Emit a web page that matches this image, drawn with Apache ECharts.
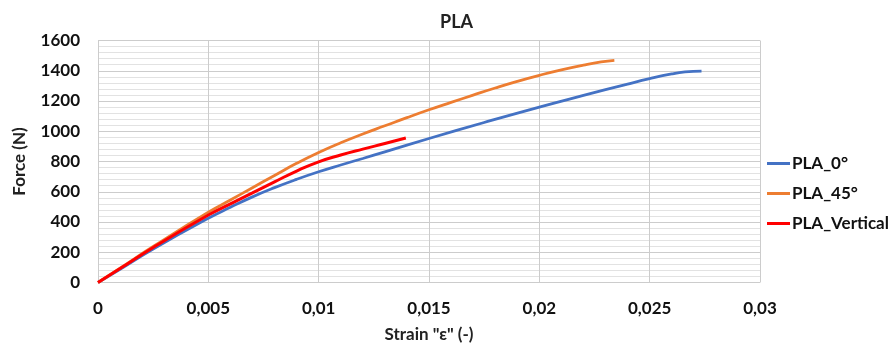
<!DOCTYPE html>
<html>
<head>
<meta charset="utf-8">
<script src="https://cdn.jsdelivr.net/npm/echarts@6/dist/echarts.min.js"></script>
<style>html,body{margin:0;padding:0;background:#fff}#c{width:894px;height:347px}</style>
</head>
<body>
<div id="c"></div>
<script>
const seriesNames = ['PLA_0°', 'PLA_45°', 'PLA_Vertical'];
const xTicks = [0, 0.005, 0.01, 0.015, 0.02, 0.025, 0.03];
const yTicks = [0, 200, 400, 600, 800, 1000, 1200, 1400, 1600];

const pla0 = [
  [0, 0], [0.001, 88], [0.0025, 222], [0.005, 425], [0.006, 497], [0.007, 566],
  [0.008, 627], [0.009, 682], [0.01, 732], [0.011, 777], [0.012, 820], [0.013, 864],
  [0.015, 952], [0.0175, 1058], [0.02, 1160], [0.022, 1237], [0.024, 1312],
  [0.025, 1348], [0.026, 1379], [0.0266, 1392], [0.02735, 1398]
];
const pla45 = [
  [0, 0], [0.001, 95], [0.0025, 238], [0.005, 465], [0.006, 545], [0.007, 627],
  [0.008, 708], [0.009, 788], [0.01, 860], [0.011, 924], [0.012, 982], [0.013, 1036],
  [0.014, 1090], [0.015, 1142], [0.016, 1191], [0.017, 1239], [0.018, 1286],
  [0.019, 1330], [0.02, 1370], [0.021, 1406], [0.022, 1437], [0.0228, 1458], [0.0234, 1468]
];
const plaVertical = [
  [0, 0], [0.001, 92], [0.0025, 232], [0.005, 446], [0.006, 520], [0.007, 592],
  [0.008, 665], [0.009, 737], [0.01, 798], [0.011, 843], [0.012, 882], [0.013, 919],
  [0.01395, 955]
];

const colors = ['#4472C4', '#ED7D31', '#FF0000'];
const font = 'Lato, "Open Sans", sans-serif';

const chart = echarts.init(document.getElementById('c'), null, {renderer: 'canvas'});
chart.setOption({
  animation: false,
  backgroundColor: '#fff',
  title: {
    text: 'PLA', left: 435, top: 8,
    textStyle: {fontFamily: font, fontWeight: 'bold', fontSize: 18, color: '#222'}
  },
  grid: {left: 98, right: 134, top: 40.5, bottom: 64.5, containLabel: false, outerBoundsMode: 'none'},
  legend: {
    orient: 'vertical', left: 762, top: 150, itemGap: 13,
    icon: 'rect', itemWidth: 23, itemHeight: 3,
    data: seriesNames,
    textStyle: {fontFamily: font, fontWeight: 'bold', fontSize: 17, color: '#111', padding: [0, 0, 0, -3]}
  },
  xAxis: {
    type: 'value', min: xTicks[0], max: xTicks[xTicks.length - 1], interval: 0.005,
    name: 'Strain "ε" (-)', nameLocation: 'middle', nameGap: 44,
    nameTextStyle: {fontFamily: font, fontWeight: 'bold', fontSize: 17, color: '#222'},
    axisLine: {show: false}, axisTick: {show: false},
    axisLabel: {
      margin: 18, fontFamily: font, fontWeight: 'bold', fontSize: 17, color: '#111',
      formatter: v => String(+v.toFixed(3)).replace('.', ',')
    },
    splitLine: {show: true, lineStyle: {color: '#cccccc', width: 1}}
  },
  yAxis: {
    type: 'value', min: yTicks[0], max: yTicks[yTicks.length - 1], interval: 200,
    name: 'Force (N)', nameLocation: 'middle', nameGap: 70, nameRotate: 90,
    nameTextStyle: {fontFamily: font, fontWeight: 'bold', fontSize: 17, color: '#222'},
    axisLine: {show: false}, axisTick: {show: false},
    axisLabel: {margin: 18, fontFamily: font, fontWeight: 'bold', fontSize: 17, color: '#111',
      formatter: v => String(v)},
    splitLine: {show: true, lineStyle: {color: '#cccccc', width: 1}},
    minorTick: {show: true, splitNumber: 5, length: 0, lineStyle: {color: 'rgba(0,0,0,0)'}},
    minorSplitLine: {show: true, lineStyle: {color: '#e2e2e2', width: 1}}
  },
  series: [
    {name: seriesNames[0], type: 'line', data: pla0, smooth: true, showSymbol: false,
     lineStyle: {width: 2.8, color: colors[0]}, itemStyle: {color: colors[0]}},
    {name: seriesNames[1], type: 'line', data: pla45, smooth: true, showSymbol: false,
     lineStyle: {width: 2.8, color: colors[1]}, itemStyle: {color: colors[1]}},
    {name: seriesNames[2], type: 'line', data: plaVertical, smooth: true, showSymbol: false,
     lineStyle: {width: 3, color: colors[2]}, itemStyle: {color: colors[2]}}
  ]
});
</script>
</body>
</html>
